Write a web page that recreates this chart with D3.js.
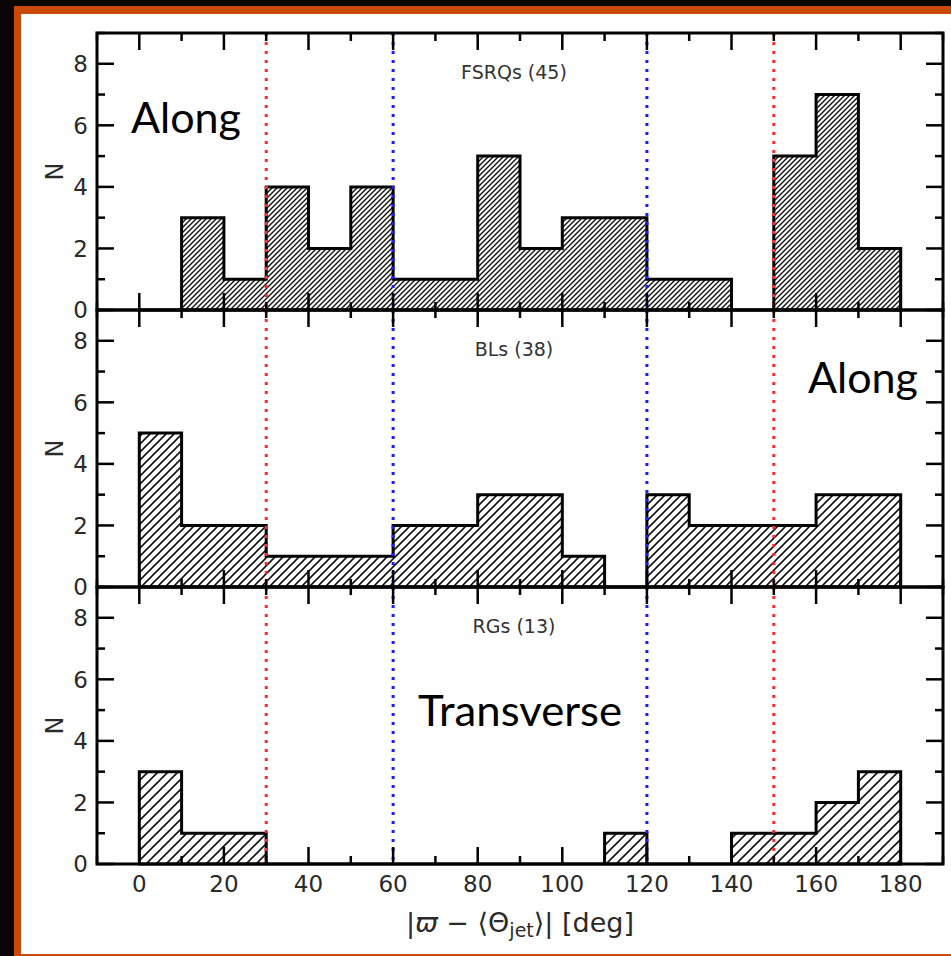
<!DOCTYPE html>
<html>
<head>
<meta charset="utf-8">
<script src="https://cdn.jsdelivr.net/npm/d3@7"></script>
<style>
html,body{margin:0;padding:0;background:#000;}
svg{display:block;}
</style>
</head>
<body>
<script>
// ---- data ----
const binEdges = [0,10,20,30,40,50,60,70,80,90,100,110,120,130,140,150,160,170,180];
const fsrqCounts = [0,3,1,4,2,4,1,1,5,2,3,3,1,1,0,5,7,2];
const blCounts   = [5,2,2,1,1,1,2,2,3,3,1,0,3,2,2,2,3,3];
const rgCounts   = [3,1,1,0,0,0,0,0,0,0,0,1,0,0,1,1,2,3];
const panelTitles = ["FSRQs (45)","BLs (38)","RGs (13)"];
const xTicks = [0,20,40,60,80,100,120,140,160,180];
const yTicks = [0,2,4,6,8];
const redLines = [30,150];
const blueLines = [60,120];
const annotations = [
  {text:"Along", panel:0},
  {text:"Along", panel:1},
  {text:"Transverse", panel:2}
];

const W=951,H=956;
const svg=d3.select("body").append("svg").attr("width",W).attr("height",H);

// frame
svg.append("rect").attr("width",W).attr("height",H).attr("fill","#0b0606");
svg.append("rect").attr("x",14).attr("y",6).attr("width",W-14).attr("height",H-6).attr("fill","#c94a08");
svg.append("rect").attr("x",21).attr("y",14).attr("width",W-21).attr("height",940).attr("fill","#fff");

const left=97,right=943,top0=33,ph=277;
const x=d3.scaleLinear().domain([-10,190]).range([left,right]);

const defs=svg.append("defs");
const hatchSizes=[5,8,10];
hatchSizes.forEach((s,i)=>{
  const p=defs.append("pattern").attr("id","hatch"+i).attr("patternUnits","userSpaceOnUse")
    .attr("width",s).attr("height",s);
  p.append("rect").attr("width",s).attr("height",s).attr("fill","#fff");
  const sw = i===0?1.4:1.6;
  p.append("path").attr("d",`M0,${s} L${s},0 M${-s/2},${s/2} L${s/2},${-s/2} M${s/2},${s*1.5} L${s*1.5},${s/2}`)
    .attr("stroke","#111").attr("stroke-width",sw);
});

const allCounts=[fsrqCounts,blCounts,rgCounts];
const font="DejaVu Sans";
const txtCol="#2a2a2a";

allCounts.forEach((counts,pi)=>{
  const pt=top0+pi*ph, pb=pt+ph;
  const y=d3.scaleLinear().domain([0,9]).range([pb,pt]);
  const g=svg.append("g");

  // step path
  const pts=[[binEdges[0],0]];
  counts.forEach((c,i)=>{pts.push([binEdges[i],c]);pts.push([binEdges[i+1],c]);});
  pts.push([binEdges[binEdges.length-1],0]);
  const line=d3.line().x(d=>x(d[0])).y(d=>y(d[1]));
  g.append("path").attr("d",line(pts)+"Z").attr("fill",`url(#hatch${pi})`)
    .attr("stroke","#000").attr("stroke-width",3).attr("stroke-linejoin","miter");

  // dotted lines
  redLines.forEach(v=>g.append("line").attr("x1",x(v)).attr("x2",x(v)).attr("y1",pt).attr("y2",pb)
    .attr("stroke","#ff2a2a").attr("stroke-width",3).attr("stroke-dasharray","3,6"));
  blueLines.forEach(v=>g.append("line").attr("x1",x(v)).attr("x2",x(v)).attr("y1",pt).attr("y2",pb)
    .attr("stroke","#1a1aff").attr("stroke-width",3).attr("stroke-dasharray","3,6"));

  // ticks (inward, all sides)
  const majLen=17,minLen=8;
  const xt=d3.range(-10,191,10);
  xt.forEach(v=>{
    const L=(v%20===0)?majLen:minLen;
    g.append("line").attr("x1",x(v)).attr("x2",x(v)).attr("y1",pb).attr("y2",pb-L).attr("stroke","#000").attr("stroke-width",2.5);
    g.append("line").attr("x1",x(v)).attr("x2",x(v)).attr("y1",pt).attr("y2",pt+L).attr("stroke","#000").attr("stroke-width",2.5);
  });
  d3.range(0,10,1).forEach(v=>{
    const L=(v%2===0)?majLen:minLen;
    g.append("line").attr("x1",left).attr("x2",left+L).attr("y1",y(v)).attr("y2",y(v)).attr("stroke","#000").attr("stroke-width",2.5);
    g.append("line").attr("x1",right).attr("x2",right-L).attr("y1",y(v)).attr("y2",y(v)).attr("stroke","#000").attr("stroke-width",2.5);
  });

  // spines
  g.append("rect").attr("x",left).attr("y",pt).attr("width",right-left).attr("height",ph)
    .attr("fill","none").attr("stroke","#000").attr("stroke-width",3);

  // y tick labels
  yTicks.forEach(v=>g.append("text").attr("x",left-9).attr("y",y(v)).attr("dy","0.36em")
    .attr("text-anchor","end").attr("font-family",font).attr("font-size",23).attr("fill",txtCol).text(v));

  // y label
  g.append("text").attr("transform",`translate(63,${(pt+pb)/2}) rotate(-90)`).attr("text-anchor","middle")
    .attr("font-family",font).attr("font-size",24).attr("fill",txtCol).text("N");

  // title
  g.append("text").attr("x",(left+right)/2 - 6).attr("y",pt+46).attr("text-anchor","middle")
    .attr("font-family",font).attr("font-size",19).attr("fill","#333").text(panelTitles[pi]);

  if(pi===2){
    xTicks.forEach(v=>g.append("text").attr("x",x(v)).attr("y",pb+28).attr("text-anchor","middle")
      .attr("font-family",font).attr("font-size",23).attr("fill",txtCol).text(v));
  }
});

// x label
const xl=svg.append("text").attr("x",(left+right)/2).attr("y",932).attr("text-anchor","middle")
  .attr("font-family",font).attr("font-size",27).attr("fill",txtCol);
xl.append("tspan").text("|");
xl.append("tspan").attr("font-style","italic").text("ϖ");
xl.append("tspan").text(" − ⟨Θ");
xl.append("tspan").attr("font-size",19).attr("dy",5).text("jet");
xl.append("tspan").attr("dy",-5).text("⟩| [deg]");

// annotations
const annPos=[{x:131,y:133,w:110},{x:808,y:393,w:110},{x:418,y:726,w:204}];
annotations.forEach((a,i)=>{
  svg.append("text").attr("x",annPos[i].x).attr("y",annPos[i].y)
    .attr("font-family","Lato, 'Open Sans', sans-serif").attr("font-size",42).attr("fill","#000")
    .attr("textLength",annPos[i].w).attr("lengthAdjust","spacingAndGlyphs").text(a.text);
});
</script>
</body>
</html>
